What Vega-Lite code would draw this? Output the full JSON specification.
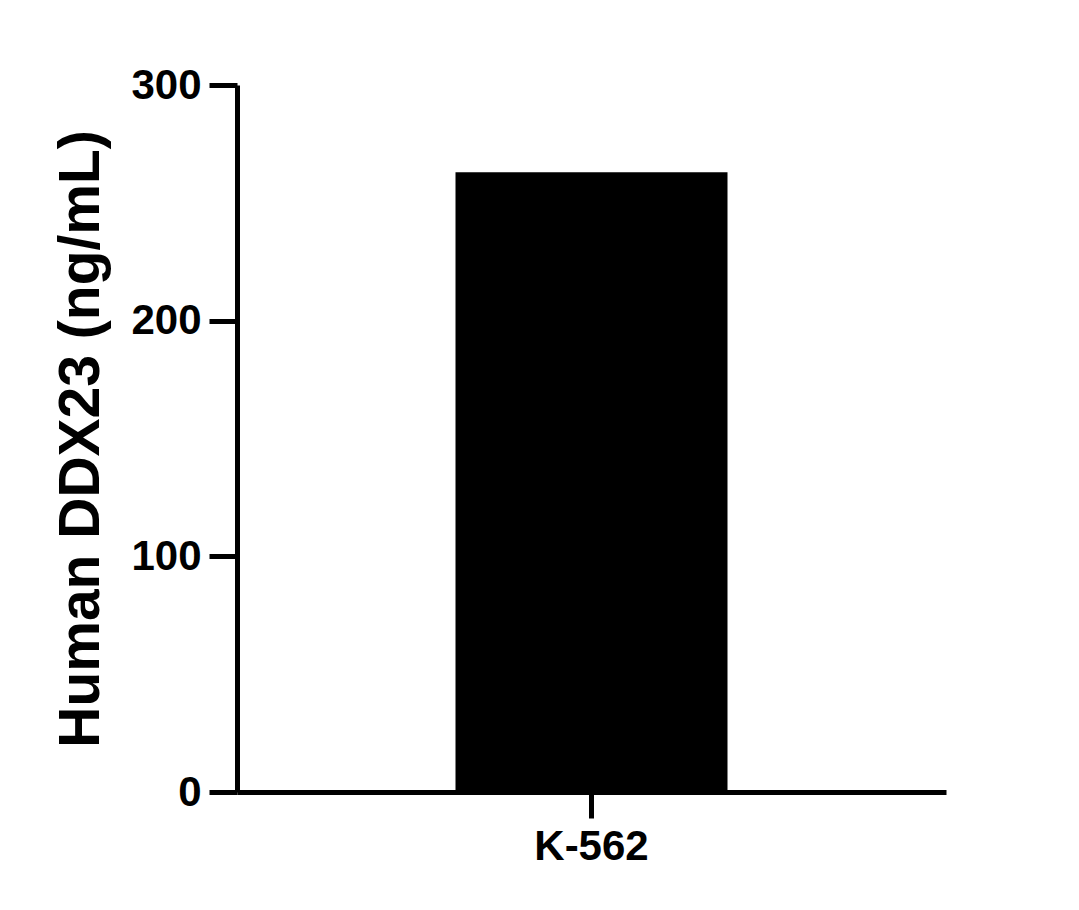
{
  "$schema": "https://vega.github.io/schema/vega-lite/v6.json",
  "width": 709,
  "height": 707,
  "autosize": "none",
  "padding": {"left": 237, "top": 85, "right": 133, "bottom": 118},
  "background": "white",
  "config": {
    "view": {"stroke": null},
    "font": "Liberation Sans"
  },
  "data": {
    "values": [
      {"cell_line": "K-562", "concentration": 263}
    ]
  },
  "mark": {"type": "bar", "color": "black", "width": 272},
  "encoding": {
    "x": {
      "field": "cell_line",
      "type": "nominal",
      "title": null,
      "axis": {
        "labelAngle": 0,
        "labelFont": "Liberation Sans",
        "labelFontWeight": "bold",
        "labelFontSize": 42,
        "labelColor": "black",
        "labelPadding": 8,
        "domainColor": "black",
        "domainWidth": 5,
        "tickColor": "black",
        "tickWidth": 5,
        "tickSize": 26
      }
    },
    "y": {
      "field": "concentration",
      "type": "quantitative",
      "title": "Human DDX23 (ng/mL)",
      "scale": {"domain": [0, 300], "nice": false},
      "axis": {
        "values": [0, 100, 200, 300],
        "grid": false,
        "labelFont": "Liberation Sans",
        "labelFontWeight": "bold",
        "labelFontSize": 42,
        "labelColor": "black",
        "labelPadding": 8,
        "domainColor": "black",
        "domainWidth": 5,
        "tickColor": "black",
        "tickWidth": 5,
        "tickSize": 28,
        "titleFont": "Liberation Sans",
        "titleFontWeight": "bold",
        "titleFontSize": 57,
        "titleColor": "black",
        "titlePadding": 20
      }
    }
  }
}
